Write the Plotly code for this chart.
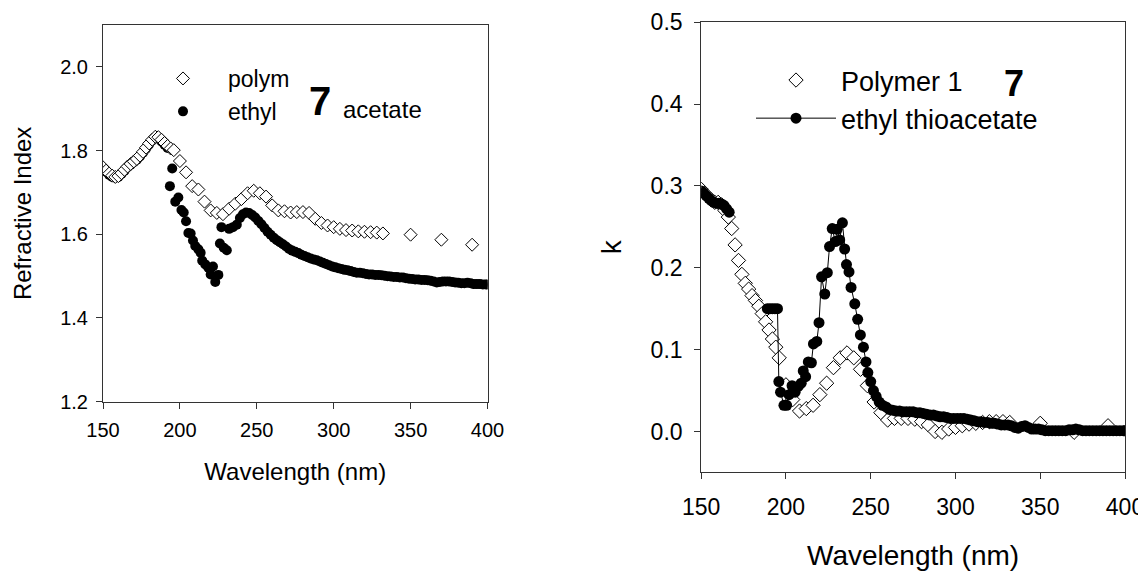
import plotly.graph_objects as go

# --- left panel: refractive index ---
wl_poly = [150, 152, 154, 156, 158, 160, 162, 164, 166, 168, 170, 172, 174, 176, 178, 180, 182, 184,
           186, 188, 190, 192, 194, 196,
           200, 204, 208, 212, 216, 220, 224, 228, 232, 236, 240, 244, 248, 252, 256, 260, 264, 268,
           272, 276, 280, 284, 288, 292, 296, 300, 304, 308, 312, 316, 320, 324, 328, 332,
           350, 370, 390]
n_poly = [1.760, 1.752, 1.745, 1.740, 1.737, 1.739, 1.746, 1.754, 1.762, 1.768, 1.774, 1.780, 1.788,
          1.797, 1.807, 1.817, 1.826, 1.833, 1.832, 1.826, 1.818, 1.811, 1.805, 1.801,
          1.775, 1.748, 1.715, 1.707, 1.678, 1.657, 1.651, 1.648, 1.661, 1.673, 1.684, 1.698, 1.704,
          1.698, 1.690, 1.669, 1.657, 1.655, 1.652, 1.653, 1.653, 1.651, 1.637, 1.627, 1.621, 1.617,
          1.613, 1.610, 1.609, 1.607, 1.606, 1.605, 1.604, 1.602,
          1.599, 1.587, 1.575]

wl_eta_n = [150, 152, 154, 156, 158, 160, 162, 164, 166, 168, 170, 172, 174, 176, 178, 180, 182, 184,
            186, 188, 190, 192,
            193.5, 195, 197, 199, 201, 202.5, 204, 205.5, 207, 208.5, 210, 212, 213.5, 214.5, 216.5,
            218.5, 220, 221.5, 223, 225,
            226, 227, 228.5, 230.5, 232, 234.5, 237, 239, 241, 243, 245, 247, 249, 251, 253, 255, 257,
            259, 261, 263, 265, 267, 269, 271, 273, 275, 277, 279, 281, 283, 285, 287, 289, 291, 293,
            295, 297, 299, 301, 303, 305, 307, 309, 311, 313, 315, 317, 319, 321, 323, 325, 327, 329,
            331, 333, 335, 337, 339, 341, 343, 345, 347, 349, 351, 353, 355, 357, 359, 361, 363, 365,
            367, 369, 371, 373, 375, 377, 379, 381, 383, 385, 387, 389, 391, 393, 395, 397, 399, 400]
n_eta = [1.757, 1.749, 1.742, 1.737, 1.735, 1.737, 1.744, 1.752, 1.760, 1.766, 1.772, 1.778, 1.786,
         1.795, 1.805, 1.815, 1.824, 1.830, 1.829, 1.822, 1.814, 1.806,
         1.715, 1.757, 1.678, 1.688, 1.658, 1.652, 1.631, 1.603, 1.602, 1.585, 1.572, 1.564, 1.556,
         1.537, 1.528, 1.520, 1.504, 1.523, 1.486, 1.503,
         1.578, 1.617, 1.568, 1.562, 1.613, 1.617, 1.623, 1.639, 1.648, 1.652, 1.651, 1.646, 1.640,
         1.632, 1.624, 1.615, 1.606, 1.599, 1.592, 1.586, 1.581, 1.576, 1.571, 1.565, 1.561, 1.558,
         1.555, 1.551, 1.548, 1.545, 1.542, 1.540, 1.538, 1.535, 1.532, 1.529, 1.526, 1.523, 1.521,
         1.519, 1.517, 1.515, 1.514, 1.512, 1.510, 1.508, 1.508, 1.507, 1.505, 1.504, 1.504, 1.503,
         1.503, 1.502, 1.501, 1.500, 1.499, 1.498, 1.498, 1.497, 1.497, 1.495, 1.494, 1.493, 1.492,
         1.492, 1.491, 1.491, 1.490, 1.489, 1.487, 1.485, 1.486, 1.487, 1.487, 1.487, 1.486, 1.485,
         1.484, 1.483, 1.483, 1.484, 1.483, 1.481, 1.481, 1.481, 1.480, 1.480, 1.480]

# --- right panel: extinction coefficient k ---
k_poly = [0.296, 0.291, 0.287, 0.283, 0.280, 0.280, 0.277, 0.270, 0.262, 0.248, 0.228, 0.209, 0.192,
          0.181, 0.174, 0.166, 0.160, 0.153, 0.144, 0.134, 0.124, 0.113, 0.103, 0.090,
          0.057, 0.039, 0.025, 0.028, 0.032, 0.045, 0.059, 0.078, 0.090, 0.096, 0.090, 0.076, 0.056,
          0.036, 0.023, 0.014, 0.016, 0.016, 0.016, 0.015, 0.012, 0.008, 0.000, -0.001, 0.003, 0.005,
          0.007, 0.009, 0.010, 0.011, 0.012, 0.012, 0.012, 0.011,
          0.010, -0.001, 0.007]

wl_eta_k = [150, 151.5, 153, 154.5, 156, 157.5, 159, 160.5, 162, 163.5, 165, 166.5, 178,
            189, 190.5, 192, 193.5, 195, 195.8, 196.8, 198.8, 200.4, 201.8, 203.6, 205.4, 207.2,
            209, 210.2, 211.6, 213.2, 215, 216.2, 218.2, 219.5, 221, 222.9, 224.4, 225.7, 227.3,
            229.1, 230.2, 231.7, 233.3, 234.6, 235.7, 237.2, 238.4, 240.6, 242.3, 243.9, 245.7,
            247.2, 248.3, 250, 251.6, 253.2, 255, 257, 259, 261, 263, 265, 267, 269, 271, 273, 275,
            277, 279, 281, 283, 285, 287, 289, 291, 293, 295, 297, 299, 301, 303, 305, 307, 309, 311,
            313, 315, 317, 319, 321, 323, 325, 327, 329, 331, 333, 335, 337, 339, 341, 343, 345, 347,
            349, 351, 353, 355, 357, 359, 361, 363, 365, 367, 369, 371, 373, 375, 377, 379, 381, 383,
            385, 387, 389, 391, 393, 395, 397, 399, 400]
k_eta = [0.294, 0.291, 0.288, 0.285, 0.282, 0.280, 0.279, 0.279, 0.278, 0.276, 0.272, 0.268, None,
         0.150, 0.150, 0.150, 0.150, 0.150, 0.061, 0.048, 0.032, 0.032, 0.045, 0.056, 0.048, 0.055,
         0.059, 0.074, 0.067, 0.085, 0.084, 0.107, 0.110, 0.133, 0.189, 0.168, 0.194, 0.226, 0.248,
         0.232, 0.247, 0.234, 0.255, 0.223, 0.204, 0.195, 0.176, 0.156, 0.137, 0.118, 0.103,
         0.085, 0.072, 0.061, 0.050, 0.043, 0.036, 0.032, 0.030, 0.027, 0.026, 0.025, 0.025, 0.024,
         0.024, 0.024, 0.024, 0.023, 0.023, 0.022, 0.021, 0.020, 0.020, 0.019, 0.018, 0.018, 0.017,
         0.016, 0.016, 0.016, 0.016, 0.016, 0.015, 0.014, 0.013, 0.012, 0.012, 0.011, 0.011, 0.010,
         0.010, 0.009, 0.008, 0.008, 0.008, 0.007, 0.005, 0.004, 0.006, 0.007, 0.005, 0.003, 0.003,
         0.003, 0.002, 0.001, 0.001, 0.001, 0.001, 0.001, 0.001, 0.001, 0.002, 0.002, 0.003, 0.002,
         0.001, 0.001, 0.001, 0.001, 0.001, 0.001, 0.001, 0.001, 0.001, 0.001, 0.001, 0.001, 0.001,
         0.001, 0.001]

# the page body has an 8px margin, so the figure is drawn 8px in from the window corner
OFF = 8
W, H = 1146 - OFF, 571 - OFF
FONT = "Liberation Sans, Arial, sans-serif"
AX = "#333333"


def px(x):
    return (x - OFF) / W


def py(y):
    return 1 - (y - OFF) / H


fig = go.Figure()

# left panel (polymer drawn on top of ethyl)
fig.add_trace(go.Scatter(x=wl_eta_n, y=n_eta, mode="markers", name="ethyl", legend="legend",
                         legendrank=2, xaxis="x", yaxis="y",
                         marker=dict(symbol="circle", size=10, color="black")))
fig.add_trace(go.Scatter(x=wl_poly, y=n_poly, mode="markers", name="polym", legend="legend",
                         legendrank=1, xaxis="x", yaxis="y",
                         marker=dict(symbol="diamond", size=10, color="white",
                                     line=dict(color="black", width=1))))

# right panel (ethyl drawn on top)
fig.add_trace(go.Scatter(x=wl_poly, y=k_poly, mode="markers", name="Polymer 1", legend="legend2",
                         xaxis="x2", yaxis="y2",
                         marker=dict(symbol="diamond", size=11, color="white",
                                     line=dict(color="black", width=1))))
fig.add_trace(go.Scatter(x=wl_eta_k, y=k_eta, mode="lines+markers", name="ethyl thioacetate",
                         legend="legend2", xaxis="x2", yaxis="y2",
                         line=dict(color="black", width=1),
                         marker=dict(symbol="circle", size=11, color="black")))


def xax(domain, anchor, fs, lstand, tfs, standoff):
    return dict(domain=domain, anchor=anchor, range=[150, 400], dtick=50, tick0=150,
                automargin=False,
                showgrid=False, zeroline=False, showline=True, linecolor=AX, linewidth=1,
                mirror=True, ticks="outside", ticklen=6, tickcolor=AX,
                tickfont=dict(size=fs, color="black"), ticklabelstandoff=lstand,
                title=dict(text="Wavelength (nm)", font=dict(size=tfs, color="black"),
                           standoff=standoff))


def yax(domain, anchor, rng, vals, fs, lstand, title, tfs, standoff):
    return dict(domain=domain, anchor=anchor, range=rng, tickvals=vals, tickformat=".1f",
                automargin=False,
                showgrid=False, zeroline=False, showline=True, linecolor=AX, linewidth=1,
                mirror=True, ticks="outside", ticklen=6, tickcolor=AX,
                tickfont=dict(size=fs, color="black"), ticklabelstandoff=lstand,
                title=dict(text=title, font=dict(size=tfs, color="black"), standoff=standoff))


fig.update_layout(
    width=W, height=H,
    margin=dict(l=0, r=0, t=0, b=0, autoexpand=False),
    paper_bgcolor="white", plot_bgcolor="white",
    font=dict(family=FONT, color="black"),
    xaxis=xax([px(103), px(487.5)], "y", 20, 4, 24, 23),
    yaxis=yax([py(401.7), py(25)], "x", [1.2, 2.1], [1.2, 1.4, 1.6, 1.8, 2.0],
              20, 4, "Refractive Index", 24, 21),
    xaxis2=xax([px(701.2), px(1125)], "y2", 23, 8, 28, 26),
    yaxis2=yax([py(472.4), py(22.3)], "x2", [-0.05, 0.5],
               [0.0, 0.1, 0.2, 0.3, 0.4, 0.5], 23, 7, "k", 28, 20),
    legend=dict(x=px(138), y=py(57), xanchor="left", yanchor="top",
                bgcolor="rgba(0,0,0,0)", itemwidth=80, font=dict(size=23, color="black")),
    legend2=dict(x=px(751), y=py(56), xanchor="left", yanchor="top",
                 bgcolor="rgba(0,0,0,0)", itemwidth=80, font=dict(size=27, color="black")),
    showlegend=True,
)

# stray glyphs that sit over the legend text in the original figure
fig.add_annotation(text="<b>7</b>", x=px(320), y=py(101), xref="paper", yref="paper",
                   showarrow=False, font=dict(size=40, color="black", family=FONT),
                   xanchor="center", yanchor="middle")
fig.add_annotation(text="acetate", x=px(341), y=py(110), xref="paper", yref="paper",
                   showarrow=False, font=dict(size=24, color="black", family=FONT),
                   xanchor="left", yanchor="middle")
fig.add_annotation(text="<b>7</b>", x=px(1014), y=py(84), xref="paper", yref="paper",
                   showarrow=False, font=dict(size=36, color="black", family=FONT),
                   xanchor="center", yanchor="middle")

fig.write_html("out.html")
